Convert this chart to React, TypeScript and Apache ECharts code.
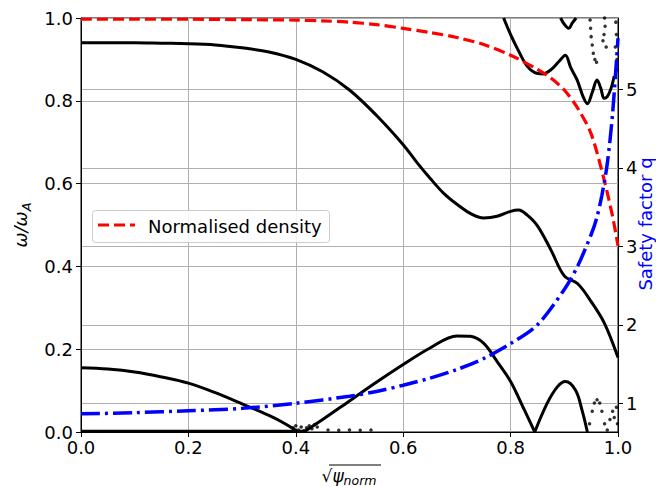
import React, { useEffect, useRef } from 'react';
import * as echarts from 'echarts';

// Normalised density (left axis)
const densityX = [0, 0.1, 0.2, 0.3, 0.4, 0.45, 0.5, 0.55, 0.6, 0.65, 0.7, 0.75, 0.8, 0.85, 0.875, 0.9, 0.925, 0.95, 0.975, 0.99, 1.0];
const densityY = [0.997, 0.997, 0.997, 0.996, 0.995, 0.993, 0.99, 0.984, 0.975, 0.965, 0.953, 0.936, 0.91, 0.876, 0.855, 0.826, 0.782, 0.72, 0.605, 0.52, 0.45];

// Safety factor q (right axis)
const qX = [0, 0.1, 0.2, 0.3, 0.4, 0.5, 0.55, 0.6, 0.65, 0.7, 0.75, 0.8, 0.85, 0.9, 0.925, 0.95, 0.96, 0.97, 0.98, 0.99, 1.0];
const qY = [0.865, 0.88, 0.905, 0.935, 1.0, 1.09, 1.15, 1.23, 1.32, 1.43, 1.57, 1.76, 2.0, 2.45, 2.75, 3.15, 3.35, 3.65, 4.05, 4.7, 5.65];
const qTicks = [1, 2, 3, 4, 5];

// Eigenfrequency branches (left axis)
const upperX = [0, 0.05, 0.1, 0.15, 0.2, 0.25, 0.3, 0.35, 0.4, 0.45, 0.5, 0.55, 0.6, 0.625, 0.65, 0.675, 0.7, 0.725, 0.75, 0.775, 0.8, 0.815, 0.83, 0.85, 0.875, 0.9, 0.925, 0.95, 0.975, 1.0];
const upperY = [0.94, 0.94, 0.94, 0.939, 0.938, 0.935, 0.928, 0.918, 0.9, 0.87, 0.826, 0.765, 0.694, 0.652, 0.613, 0.577, 0.55, 0.528, 0.517, 0.521, 0.533, 0.536, 0.525, 0.498, 0.44, 0.377, 0.358, 0.315, 0.262, 0.18];

const lowAX = [0, 0.05, 0.1, 0.15, 0.2, 0.25, 0.3, 0.35, 0.38, 0.405];
const lowAY = [0.155, 0.152, 0.145, 0.133, 0.118, 0.095, 0.068, 0.04, 0.02, 0.0];

const lowBX = [0.415, 0.45, 0.5, 0.55, 0.6, 0.65, 0.7, 0.725, 0.75, 0.775, 0.8, 0.825, 0.845];
const lowBY = [0.0, 0.03, 0.075, 0.12, 0.163, 0.203, 0.232, 0.231, 0.214, 0.17, 0.122, 0.055, 0.0];

const lowCX = [0.845, 0.868, 0.887, 0.902, 0.921, 0.933, 0.943];
const lowCY = [0.0, 0.069, 0.109, 0.122, 0.101, 0.053, 0.0];

const topOscX = [0.787, 0.8, 0.815, 0.83, 0.845, 0.86, 0.875, 0.89, 0.902, 0.912, 0.924, 0.935, 0.943, 0.952, 0.961, 0.968, 0.974, 0.98, 0.987, 0.993];
const topOscY = [1.0, 0.96, 0.92, 0.885, 0.868, 0.865, 0.875, 0.895, 0.91, 0.88, 0.85, 0.81, 0.793, 0.82, 0.85, 0.83, 0.806, 0.81, 0.83, 0.86];

const topVX = [0.893, 0.9, 0.908, 0.915, 0.922];
const topVY = [1.0, 0.985, 0.975, 0.988, 1.0];

const zeroX = [0, 0.1, 0.2, 0.3, 0.42];
const zeroY = [0.002, 0.002, 0.002, 0.002, 0.002];

// Sparse dots
const dotsX = [0.948, 0.949, 0.95, 0.952, 0.954, 0.957, 0.96, 0.975, 0.976, 0.974, 0.972, 0.978, 0.996, 0.997, 0.995, 0.998, 0.999,
  0.947, 0.952, 0.956, 0.961, 0.966, 0.97, 0.975, 0.98, 0.985, 0.99, 0.993, 0.997, 0.999,
  0.395, 0.4, 0.405, 0.41, 0.415, 0.42, 0.425, 0.43, 0.435, 0.44, 0.46, 0.48, 0.5, 0.52, 0.54];
const dotsY = [0.995, 0.975, 0.955, 0.935, 0.915, 0.9, 0.893, 1.0, 0.98, 0.96, 0.945, 0.93, 0.99, 0.96, 0.93, 0.9, 0.875,
  0.02, 0.05, 0.07, 0.078, 0.07, 0.05, 0.02, 0.005, 0.03, 0.05, 0.035, 0.06, 0.02,
  0.01, 0.015, 0.005, 0.012, 0.003, 0.01, 0.015, 0.008, 0.018, 0.012, 0.005, 0.004, 0.005, 0.004, 0.005];

const zip = (xs: number[], ys: number[]) => xs.map((x, i) => [x, ys[i]]);

const FONT = 'DejaVu Sans';
const FS = 18;
const GRID = '#b0b0b0';

const blackLine = (data: number[][]) => ({
  type: 'line',
  data,
  yAxisIndex: 0,
  showSymbol: false,
  symbol: 'none',
  smooth: 0.35,
  lineStyle: { color: '#000', width: 3 },
  z: 2,
});

export default function App() {
  const ref = useRef<HTMLDivElement>(null);
  useEffect(() => {
    document.body.style.margin = '0';
    const chart = echarts.init(ref.current!, null, { renderer: 'svg' });
    const option: any = {
      animation: false,
      backgroundColor: '#ffffff',
      grid: { left: 81, right: 38, top: 18, bottom: 55, show: true, borderColor: '#000', borderWidth: 1, backgroundColor: 'transparent' },
      xAxis: {
        type: 'value', min: 0, max: 1, interval: 0.2,
        axisLine: { show: true, onZero: false, lineStyle: { color: '#000', width: 1 } },
        axisTick: { show: true, length: 5, lineStyle: { color: '#000' } },
        axisLabel: { color: '#000', fontFamily: FONT, fontSize: FS, margin: 6, formatter: (v: number) => v.toFixed(1) },
        splitLine: { show: true, lineStyle: { color: GRID, width: 1 } },
      },
      yAxis: [
        {
          type: 'value', min: 0, max: 1, interval: 0.2, position: 'left',
          axisLine: { show: true, onZero: false, lineStyle: { color: '#000', width: 1 } },
          axisTick: { show: true, length: 5, lineStyle: { color: '#000' } },
          axisLabel: { color: '#000', fontFamily: FONT, fontSize: FS, margin: 8, formatter: (v: number) => v.toFixed(1) },
          splitLine: { show: true, lineStyle: { color: GRID, width: 1 } },
        },
        {
          type: 'value', min: 0.634, max: 5.908, position: 'right',
          axisLine: { show: true, onZero: false, lineStyle: { color: '#000', width: 1 } },
          axisTick: { show: true, length: 5, lineStyle: { color: '#000' }, customValues: qTicks },
          axisLabel: { color: '#000', fontFamily: FONT, fontSize: FS, margin: 8, customValues: qTicks, formatter: (v: number) => String(Math.round(v)) },
          splitLine: { show: false },
        },
      ],
      series: [
        {
          type: 'line', data: [], yAxisIndex: 1, z: 0, silent: true,
          markLine: {
            silent: true, symbol: ['none', 'none'], z: 0,
            label: { show: false },
            lineStyle: { color: GRID, width: 1, type: 'solid' },
            emphasis: { disabled: true },
            data: qTicks.map((v) => ({ yAxis: v })),
          },
        },
        { ...blackLine(zip(zeroX, zeroY)), smooth: false },
        blackLine(zip(upperX, upperY)),
        blackLine(zip(lowAX, lowAY)),
        blackLine(zip(lowBX, lowBY)),
        blackLine(zip(lowCX, lowCY)),
        blackLine(zip(topOscX, topOscY)),
        blackLine(zip(topVX, topVY)),
        {
          type: 'scatter', data: zip(dotsX, dotsY), yAxisIndex: 0, symbolSize: 3.5,
          itemStyle: { color: '#000' }, z: 2,
        },
        {
          name: 'Normalised density', type: 'line', data: zip(densityX, densityY), yAxisIndex: 0,
          showSymbol: false, symbol: 'none', smooth: 0.3,
          lineStyle: { color: '#ff0000', width: 3.2, type: [11, 5] }, z: 3,
        },
        {
          name: 'Safety factor q', type: 'line', data: zip(qX, qY), yAxisIndex: 1,
          showSymbol: false, symbol: 'none', smooth: 0.3,
          lineStyle: { color: '#0000ff', width: 3.5, type: [19, 5, 3, 5] }, z: 4,
        },
      ],
      graphic: [
        {
          type: 'rect', left: 92, top: 210, z: 100,
          shape: { x: 0, y: 0, width: 237, height: 32, r: 3 },
          style: { fill: 'rgba(255,255,255,0.85)', stroke: '#cccccc', lineWidth: 1 },
        },
        {
          type: 'line', z: 101,
          shape: { x1: 98, y1: 225, x2: 135, y2: 225 },
          style: { stroke: '#ff0000', lineWidth: 3.2, lineDash: [11, 5] },
        },
        {
          type: 'text', x: 148, y: 226, z: 101,
          style: { text: 'Normalised density', fill: '#000', font: `${FS}px "${FONT}"`, align: 'left', verticalAlign: 'middle' },
        },
        {
          type: 'text', x: 20, y: 225, rotation: Math.PI / 2, z: 101,
          style: {
            text: '{a|ω/ω}{b|A}', align: 'center', verticalAlign: 'middle', fill: '#000',
            rich: {
              a: { fontFamily: FONT, fontSize: FS, fontStyle: 'italic', fill: '#000', lineHeight: 26, verticalAlign: 'middle' },
              b: { fontFamily: FONT, fontSize: 13, fontStyle: 'italic', fill: '#000', lineHeight: 26, verticalAlign: 'bottom' },
            },
          },
        },
        {
          type: 'text', x: 645, y: 224, rotation: Math.PI / 2, z: 101,
          style: { text: 'Safety factor q', fill: '#0000ff', font: `${FS}px "${FONT}"`, align: 'center', verticalAlign: 'middle' },
        },
        {
          type: 'text', x: 349, y: 476, z: 101,
          style: {
            text: '{r|√}{p|ψ}{n|norm}', align: 'center', verticalAlign: 'middle', fill: '#000',
            rich: {
              r: { fontFamily: FONT, fontSize: 17, fill: '#000', lineHeight: 22, verticalAlign: 'middle' },
              p: { fontFamily: FONT, fontSize: 17, fontStyle: 'italic', fill: '#000', lineHeight: 22, verticalAlign: 'middle' },
              n: { fontFamily: FONT, fontSize: 12.5, fontStyle: 'italic', fill: '#000', lineHeight: 22, verticalAlign: 'bottom' },
            },
          },
        },
        {
          type: 'line', z: 101,
          shape: { x1: 329, y1: 465, x2: 381, y2: 465 },
          style: { stroke: '#000', lineWidth: 1 },
        },
      ],
    };
    chart.setOption(option);
    return () => chart.dispose();
  }, []);
  return <div ref={ref} style={{ width: 656, height: 487 }} />;
}
